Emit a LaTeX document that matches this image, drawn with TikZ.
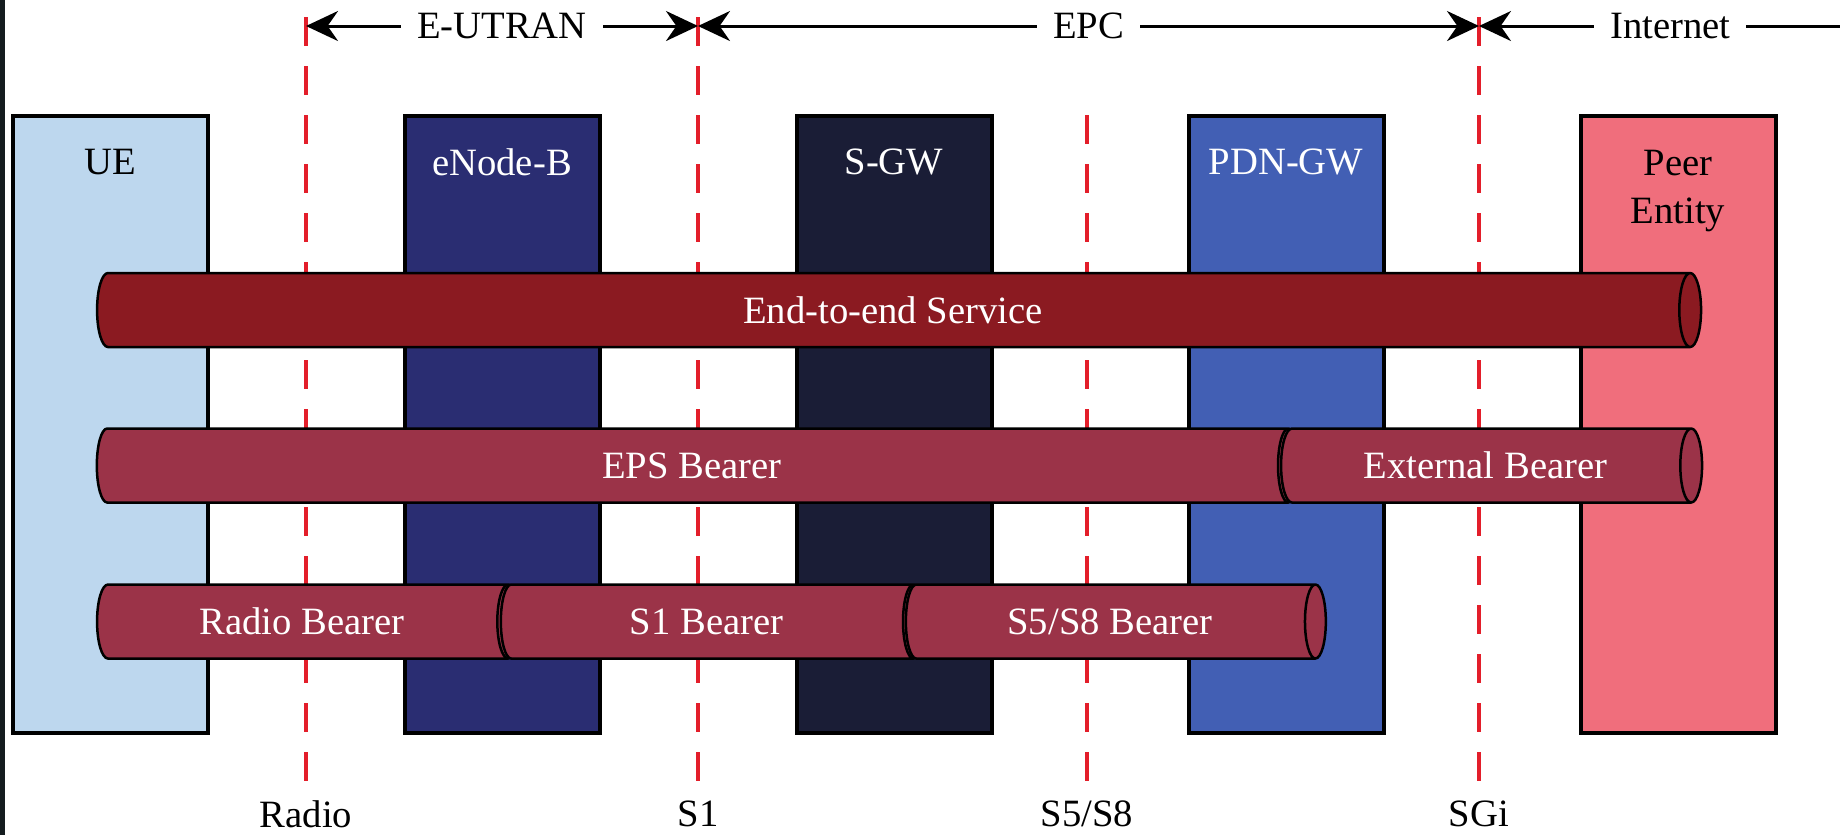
\documentclass[tikz,border=0pt]{standalone}
\usepackage{fontspec}
\setmainfont{Liberation Serif}
\usetikzlibrary{shapes.geometric,arrows.meta}

\definecolor{uefill}{HTML}{BDD7EE}
\definecolor{enbfill}{HTML}{2A2D72}
\definecolor{sgwfill}{HTML}{1A1D36}
\definecolor{pdnfill}{HTML}{425FB4}
\definecolor{peerfill}{HTML}{F06E7C}
\definecolor{endfill}{HTML}{8B1A21}
\definecolor{brfill}{HTML}{9B3348}
\definecolor{ifred}{HTML}{E31E2A}
\definecolor{edgedark}{HTML}{141C1F}

\tikzset{
  nebox/.style={draw=black, line width=0.4mm, minimum width=19.5mm,
    minimum height=61.7mm, inner sep=0pt, outer sep=0pt},
  boxlbl/.style={align=center},
  ifline/.style={draw=ifred, line width=0.4mm, dash pattern=on 2.9mm off 2mm},
  % cylinder lying on its side: height = length, width = diameter
  bearer/.style={cylinder, shape border rotate=0, aspect=0.8, draw=black,
    line width=0.25mm, fill=brfill, text=white, minimum width=7.4mm,
    inner sep=0pt, outer sep=0pt},
  span/.style={line width=0.3mm},
  spantext/.style={fill=white, inner xsep=1.6mm, inner ysep=0.5mm}
}

\begin{document}
\begin{tikzpicture}[x=0.1mm, y=-0.1mm, >={Stealth[length=3.2mm,width=3mm]},
  font=\fontsize{11}{13.4}\selectfont]

  \useasboundingbox (0,0) rectangle (1845,835);
  \fill[edgedark] (0,0) rectangle (5,835);

  % network elements
  \node[nebox, fill=uefill]   (ue)   at (110,424.5)  {};
  \node[nebox, fill=enbfill]  (enb)  at (502,424.5)  {};
  \node[nebox, fill=sgwfill]  (sgw)  at (894,424.5)  {};
  \node[nebox, fill=pdnfill]  (pdn)  at (1286,424.5) {};
  \node[nebox, fill=peerfill] (peer) at (1678,424.5) {};

  \node[boxlbl]             (uet)   at (110,162)    {UE};
  \node[boxlbl, text=white] (enbt)  at (502,162)    {eNode-B};
  \node[boxlbl, text=white] (sgwt)  at (894,162)    {S-GW};
  \node[boxlbl, text=white] (pdnt)  at (1286,162)   {PDN-GW};
  \node[boxlbl]             (peert) at (1678,191)   {Peer\\Entity};

  % interfaces
  \coordinate (tradio) at (306,26);
  \coordinate (ts1)    at (698,26);
  \coordinate (tsgi)   at (1479,26);
  \coordinate (tend)   at (1840,26);

  \draw[ifline] (306,17)   -- (306,781);
  \draw[ifline] (698,17)   -- (698,781);
  \draw[ifline] (1087,115) -- (1087,781);
  \draw[ifline] (1479,17)  -- (1479,781);

  \node (lradio) at (306,814)  {Radio};
  \node (ls1)    at (698,814)  {S1};
  \node (ls58)   at (1087,814) {S5/S8};
  \node (lsgi)   at (1479,814) {SGi};

  % domains
  \draw[span, <->] (tradio) -- node[spantext] (dutran) {E-UTRAN} (ts1);
  \draw[span, <->] (ts1) -- node[spantext] (depc) {EPC} (tsgi);
  \draw[span, <-] (tsgi) -- node[spantext, pos=0.53] (dnet) {Internet} (tend);

  % bearers
  \node[bearer, fill=endfill, minimum height=160.4mm] (e2e) at (893,310) {End-to-end Service};

  \node[bearer, minimum height=120.2mm] (eps) at (692,465.5)    {EPS Bearer};
  \node[bearer, minimum height=42.1mm]  (ext) at (1485.5,465.5) {External Bearer};

  \node[bearer, minimum height=42.2mm] (rb)  at (302,621.5)   {Radio Bearer};
  \node[bearer, minimum height=42.3mm] (s1b) at (706.5,621.5) {S1 Bearer};
  \node[bearer, minimum height=42mm]   (s5b) at (1110,621.5)  {S5/S8 Bearer};

\end{tikzpicture}
\end{document}
